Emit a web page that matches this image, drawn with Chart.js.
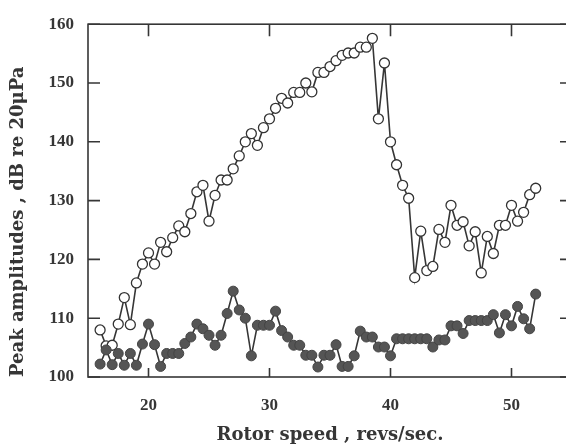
<!DOCTYPE html>
<html>
<head>
<meta charset="utf-8">
<script src="https://cdn.jsdelivr.net/npm/chart.js@4.4.1/dist/chart.umd.min.js"></script>
<style>
html, body { margin: 0; padding: 0; background: #fff; overflow: hidden; }
#wrap { width: 580px; height: 446px; }
</style>
</head>
<body>
<div id="wrap"><canvas id="chart"></canvas></div>
<script>
// rotor speed, revs/sec
var rotorSpeed = [16, 16.5, 17, 17.5, 18, 18.5, 19, 19.5, 20, 20.5, 21, 21.5, 22, 22.5, 23, 23.5, 24, 24.5, 25, 25.5,
    26, 26.5, 27, 27.5, 28, 28.5, 29, 29.5, 30, 30.5, 31, 31.5, 32, 32.5, 33, 33.5, 34, 34.5, 35, 35.5,
    36, 36.5, 37, 37.5, 38, 38.5, 39, 39.5, 40, 40.5, 41, 41.5, 42, 42.5, 43, 43.5, 44, 44.5, 45, 45.5,
    46, 46.5, 47, 47.5, 48, 48.5, 49, 49.5, 50, 50.5, 51, 51.5, 52];

// open circles (upper curve), dB
var openPeaks = [108.0, 105.3, 105.4, 109.0, 113.5, 108.9, 116.0, 119.2, 121.1, 119.2, 122.9, 121.3, 123.7, 125.7, 124.7, 127.8, 131.5, 132.6, 126.5, 130.9,
    133.5, 133.5, 135.4, 137.6, 140.0, 141.4, 139.4, 142.4, 143.9, 145.7, 147.4, 146.6, 148.4, 148.4, 150.0, 148.5, 151.8, 151.8, 152.8, 153.8,
    154.7, 155.1, 155.1, 156.1, 156.1, 157.6, 143.9, 153.4, 140.0, 136.1, 132.6, 130.4, 116.9, 124.8, 118.1, 118.8, 125.1, 122.9, 129.2, 125.8,
    126.4, 122.3, 124.7, 117.7, 123.9, 121.0, 125.8, 125.8, 129.2, 126.5, 128.0, 131.0, 132.1];

// filled circles (lower curve), dB
var filledPeaks = [102.2, 104.6, 102.1, 104.0, 102.0, 104.0, 102.0, 105.6, 109.0, 105.5, 101.8, 104.0, 104.0, 104.0, 105.7, 106.8, 109.0, 108.2, 107.1, 105.4,
    107.1, 110.8, 114.6, 111.4, 110.0, 103.6, 108.8, 108.8, 108.8, 111.2, 107.9, 106.8, 105.4, 105.4, 103.7, 103.7, 101.7, 103.7, 103.7, 105.5,
    101.8, 101.8, 103.6, 107.8, 106.8, 106.8, 105.1, 105.1, 103.6, 106.5, 106.5, 106.5, 106.5, 106.5, 106.5, 105.1, 106.3, 106.3, 108.7, 108.7,
    107.4, 109.6, 109.6, 109.6, 109.6, 110.6, 107.5, 110.6, 108.7, 112.0, 109.9, 108.2, 114.1];

var xTicks = [20, 30, 40, 50];
var yTicks = [100, 110, 120, 130, 140, 150, 160];

var serif = "'Liberation Serif', 'DejaVu Serif', serif";
var wideSerif = "'DejaVu Serif', 'Liberation Serif', serif";
var ink = '#363636';

function pairs(ys) {
    return rotorSpeed.map(function (x, i) { return { x: x, y: ys[i] }; });
}

// frame with inward ticks on all four sides
var frameTicks = {
    id: 'frameTicks',
    beforeDatasetsDraw: function (chart) {
        var ctx = chart.ctx, a = chart.chartArea;
        var xs = chart.scales.x, ys = chart.scales.y;
        ctx.save();
        ctx.strokeStyle = ink;
        ctx.lineWidth = 1.6;
        ctx.strokeRect(a.left, a.top, a.right - a.left, a.bottom - a.top);
        ctx.beginPath();
        xs.ticks.forEach(function (t) {
            var px = xs.getPixelForValue(t.value);
            ctx.moveTo(px, a.bottom); ctx.lineTo(px, a.bottom - 9);
            ctx.moveTo(px, a.top); ctx.lineTo(px, a.top + 12);
        });
        ys.ticks.forEach(function (t) {
            var py = ys.getPixelForValue(t.value);
            ctx.moveTo(a.left, py); ctx.lineTo(a.left + 12, py);
            ctx.moveTo(a.right, py); ctx.lineTo(a.right - 12, py);
        });
        ctx.stroke();
        ctx.restore();
    }
};

new Chart(document.getElementById('chart'), {
    type: 'line',
    data: {
        datasets: [{
            label: 'filled',
            data: pairs(filledPeaks),
            borderColor: ink,
            borderWidth: 1.6,
            backgroundColor: '#555',
            pointBackgroundColor: '#555',
            pointBorderColor: '#444',
            pointBorderWidth: 1,
            pointRadius: 5,
            tension: 0
        }, {
            label: 'open',
            data: pairs(openPeaks),
            borderColor: ink,
            borderWidth: 1.6,
            pointBackgroundColor: '#fff',
            pointBorderColor: '#333',
            pointBorderWidth: 1.3,
            pointRadius: 5,
            tension: 0
        }]
    },
    options: {
        responsive: true,
        maintainAspectRatio: false,
        animation: false,
        layout: { padding: { top: 20, right: 8, left: 0, bottom: 0 } },
        plugins: {
            legend: { display: false },
            tooltip: { enabled: false }
        },
        scales: {
            x: {
                type: 'linear',
                min: 15,
                max: 55,
                grid: { display: false, drawTicks: false },
                border: { display: false },
                afterBuildTicks: function (scale) {
                    scale.ticks = xTicks.map(function (v) { return { value: v }; });
                },
                afterFit: function (scale) { scale.height = 69; },
                ticks: {
                    padding: 18,
                    color: ink,
                    font: { family: serif, size: 17, weight: 'bold' }
                },
                title: {
                    display: true,
                    text: 'Rotor speed , revs/sec.',
                    color: ink,
                    padding: { top: 0, bottom: 0 },
                    font: { family: wideSerif, size: 18, weight: 'bold' }
                }
            },
            y: {
                min: 100,
                max: 160,
                grid: { display: false, drawTicks: false },
                border: { display: false },
                afterBuildTicks: function (scale) {
                    scale.ticks = yTicks.map(function (v) { return { value: v }; });
                },
                afterFit: function (scale) { scale.width = 88; },
                ticks: {
                    padding: 14,
                    color: ink,
                    font: { family: serif, size: 17, weight: 'bold' }
                },
                title: {
                    display: true,
                    text: 'Peak amplitudes , dB re 20μPa',
                    align: 'start',
                    color: ink,
                    padding: { top: 8, bottom: 0 },
                    font: { family: wideSerif, size: 18, weight: 'bold' }
                }
            }
        }
    },
    plugins: [frameTicks]
});
</script>
</body>
</html>
